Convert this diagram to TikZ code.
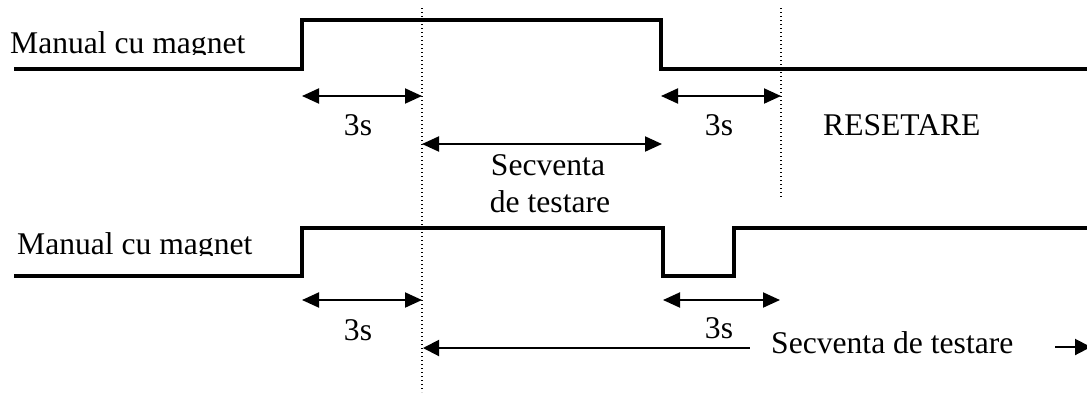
\documentclass[tikz,border=0pt]{standalone}
\usepackage{fontspec}
\setmainfont{Liberation Serif}
\usetikzlibrary{arrows.meta}

\tikzset{
  wave/.style={line width=4pt, line join=miter},
  guide/.style={line width=1.3pt, dash pattern=on 1.3pt off 2.7pt},
  span/.style={line width=2pt, {Triangle[length=17pt,width=15pt]}-{Triangle[length=17pt,width=15pt]}},
  spanleft/.style={line width=2pt, {Triangle[length=16pt,width=16pt]}-},
  spanright/.style={line width=2pt, -{Triangle[length=16pt,width=16pt]}},
  lbl/.style={inner sep=0pt, font=\fontsize{31.6}{37}\selectfont},
}

\begin{document}
\begin{tikzpicture}[x=1pt, y=-1pt]
  % page frame (also clips anything running past the edge)
  \clip (0,0) rectangle (1087,392);
  \fill[white] (0,0) rectangle (1087,392);

  % ---------- key points ----------
  \coordinate (t0) at (14,69);
  \coordinate (t1) at (302,69);
  \coordinate (t2) at (302,20);
  \coordinate (t3) at (661,20);
  \coordinate (t4) at (661,69);
  \coordinate (t5) at (1090,69);

  \coordinate (b0) at (14,276);
  \coordinate (b1) at (302,276);
  \coordinate (b2) at (302,228);
  \coordinate (b3) at (663,228);
  \coordinate (b4) at (663,276);
  \coordinate (b5) at (734,276);
  \coordinate (b6) at (734,228);
  \coordinate (b7) at (1090,228);

  \coordinate (g1top) at (422,8);
  \coordinate (g1bot) at (422,392);
  \coordinate (g2top) at (781,8);
  \coordinate (g2bot) at (781,199);

  % ---------- timing guides ----------
  \draw[guide] (g1top) -- (g1bot);
  \draw[guide] (g2top) -- (g2bot);

  % ---------- upper waveform ----------
  \draw[wave] (t0) -- (t1) -- (t2) -- (t3) -- (t4) -- (t5);
  \begin{scope}
    \clip (0,0) rectangle (300,54.5);
    \node[lbl, anchor=base west] (lab1) at (10,53) {Manual cu magnet};
  \end{scope}

  \coordinate (a1l) at (302,96);  \coordinate (a1r) at (422,96);
  \coordinate (a2l) at (661,96);  \coordinate (a2r) at (781,96);
  \coordinate (s1l) at (422,144); \coordinate (s1r) at (662,144);
  \draw[span] (a1l) -- (a1r);
  \draw[span] (a2l) -- (a2r);
  \draw[span] (s1l) -- (s1r);

  \node[lbl, anchor=base] (d1) at (358,135) {3s};
  \node[lbl, anchor=base] (d2) at (719,135) {3s};
  \node[lbl, anchor=base west] (rst) at (823,135) {RESETARE};
  \node[lbl, anchor=base] (sq1) at (548,175) {Secventa};
  \node[lbl, anchor=base] (sq2) at (550,212) {de testare};

  % ---------- lower waveform ----------
  \draw[wave] (b0) -- (b1) -- (b2) -- (b3) -- (b4) -- (b5) -- (b6) -- (b7);
  \begin{scope}
    \clip (0,200) rectangle (300,255.5);
    \node[lbl, anchor=base west] (lab2) at (17,254) {Manual cu magnet};
  \end{scope}

  \coordinate (c1l) at (302,300); \coordinate (c1r) at (422,300);
  \coordinate (c2l) at (663,300); \coordinate (c2r) at (780,300);
  \draw[span] (c1l) -- (c1r);
  \draw[span] (c2l) -- (c2r);

  \node[lbl, anchor=base] (e1) at (358,340) {3s};
  \node[lbl, anchor=base] (e2) at (719,338) {3s};
  \node[lbl, anchor=base west] (sq3) at (771,353) {Secventa de testare};

  \coordinate (l1) at (423,348); \coordinate (l2) at (750,348);
  \coordinate (r1) at (1055,347); \coordinate (r2) at (1091,347);
  \draw[spanleft] (l1) -- (l2);
  \draw[spanright] (r1) -- (r2);
\end{tikzpicture}
\end{document}
